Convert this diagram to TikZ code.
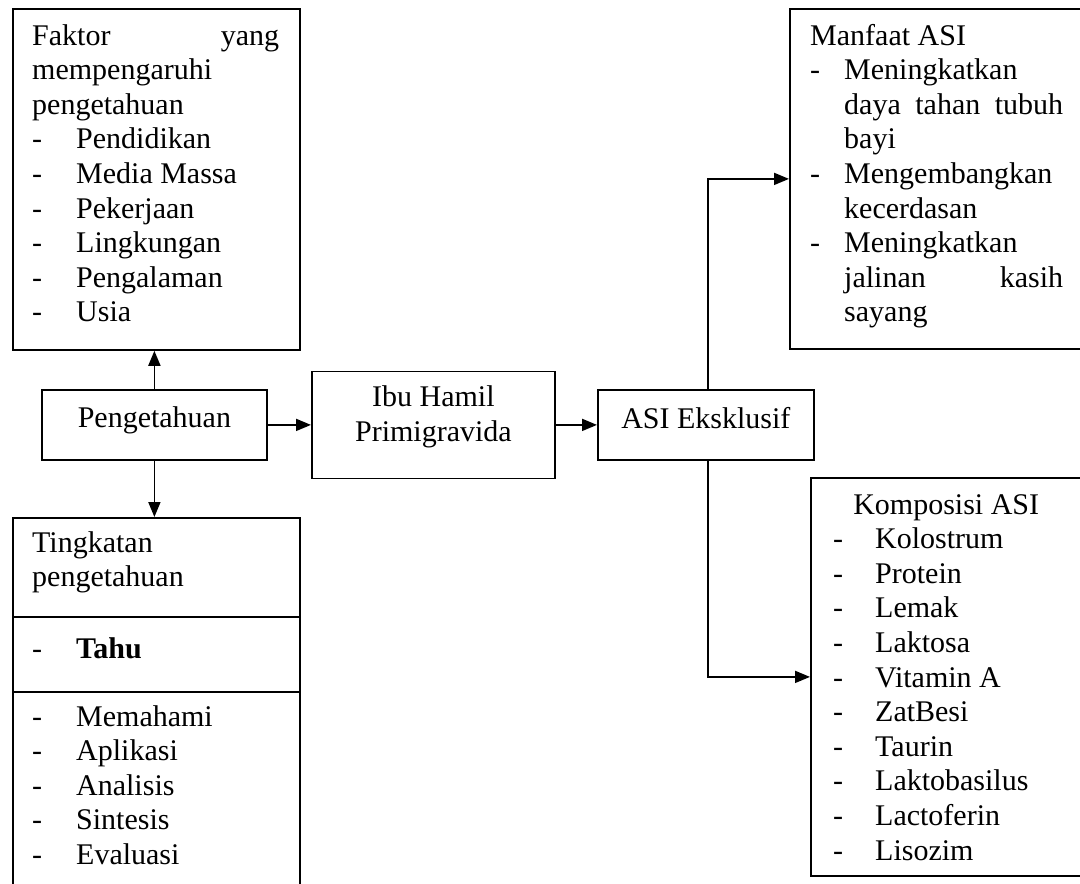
\documentclass[tikz,border=0pt]{standalone}
\usepackage{fontspec}
\setmainfont{Liberation Serif}
\usetikzlibrary{arrows.meta}
\newcommand{\dl}[2]{\makebox[#1][l]{-}#2}
\begin{document}
\begin{tikzpicture}[x=1pt,y=-1pt,
  every node/.style={font=\fontsize{30}{34.6}\selectfont},
  box/.style={draw,line width=1.8pt,inner sep=0pt,anchor=north west},
  txt/.style={anchor=base west,inner sep=0pt},
  ctxt/.style={anchor=base,inner sep=0pt},
  conn/.style={line width=1.8pt,-{Triangle[length=15pt,width=12pt]}}]
\useasboundingbox (0,0) rectangle (1080,884);
\clip (0,0) rectangle (1080,884);
% boxes
\node[box,minimum width=287pt,minimum height=341pt] (faktor) at (12,8) {};
\node[box,minimum width=225pt,minimum height=70pt] (peng) at (41,389) {};
\node[box,minimum width=243pt,minimum height=107pt] (ibu) at (311,370.5) {};
\node[box,minimum width=216pt,minimum height=70pt] (asi) at (597,389) {};
\node[box,minimum width=300pt,minimum height=340pt] (manfaat) at (789,8) {};
\node[box,minimum width=280pt,minimum height=398pt] (komp) at (810,477) {};
\node[box,minimum width=287pt,minimum height=380pt] (tk) at (12,517) {};
\draw[line width=1.8pt] ([yshift=-100pt]tk.north west) -- ([yshift=-100pt]tk.north east);
\draw[line width=1.8pt] ([yshift=-175pt]tk.north west) -- ([yshift=-175pt]tk.north east);
% texts
\node[ctxt] (ptext) at ([yshift=-3pt]peng.center) {Pengetahuan};
\node[ctxt] (itext) at ([yshift=18pt]ibu.center) {\parbox[t]{243pt}{\centering Ibu Hamil\\Primigravida}};
\node[ctxt] (atext) at ([yshift=-4pt]asi.center) {ASI Eksklusif};
\node[txt] (ftext) at (32,45) {\parbox[t]{247pt}{\raggedright Faktor\hfill yang\\
mempengaruhi\\
pengetahuan\\
\dl{44pt}{Pendidikan}\\
\dl{44pt}{Media Massa}\\
\dl{44pt}{Pekerjaan}\\
\dl{44pt}{Lingkungan}\\
\dl{44pt}{Pengalaman}\\
\dl{44pt}{Usia}}};
\node[txt] (tk1) at (32,552) {\parbox[t]{247pt}{\raggedright Tingkatan\\pengetahuan}};
\node[txt] (tk2) at (32,658) {\dl{44pt}{\textbf{Tahu}}};
\node[txt] (tk3) at (32,726) {\parbox[t]{247pt}{\raggedright \dl{44pt}{Memahami}\\
\dl{44pt}{Aplikasi}\\
\dl{44pt}{Analisis}\\
\dl{44pt}{Sintesis}\\
\dl{44pt}{Evaluasi}}};
\node[txt] (mtext) at (810,45) {\parbox[t]{253pt}{\raggedright Manfaat ASI\\
\dl{34pt}{Meningkatkan}\\
\hspace*{34pt}daya\hfill tahan\hfill tubuh\\
\hspace*{34pt}bayi\\
\dl{34pt}{Mengembangkan}\\
\hspace*{34pt}kecerdasan\\
\dl{34pt}{Meningkatkan}\\
\hspace*{34pt}jalinan\hfill kasih\\
\hspace*{34pt}sayang}};
\node[txt] (ktext) at (833,514) {\parbox[t]{226pt}{\raggedright \makebox[\linewidth]{Komposisi ASI}\\
\dl{42pt}{Kolostrum}\\
\dl{42pt}{Protein}\\
\dl{42pt}{Lemak}\\
\dl{42pt}{Laktosa}\\
\dl{42pt}{Vitamin A}\\
\dl{42pt}{ZatBesi}\\
\dl{42pt}{Taurin}\\
\dl{42pt}{Laktobasilus}\\
\dl{42pt}{Lactoferin}\\
\dl{42pt}{Lisozim}}};
% connectors
\draw[conn] (peng.north) -- (peng.north |- faktor.south);
\draw[conn] (peng.south) -- (peng.south |- tk.north);
\draw[conn] (peng.east) -- (ibu.west);
\draw[conn] (ibu.east) -- (asi.west);
\draw[conn] ([xshift=2pt]asi.north) |- (manfaat.west);
\draw[conn] ([xshift=2pt]asi.south) |- (komp.west);
\end{tikzpicture}
\end{document}
